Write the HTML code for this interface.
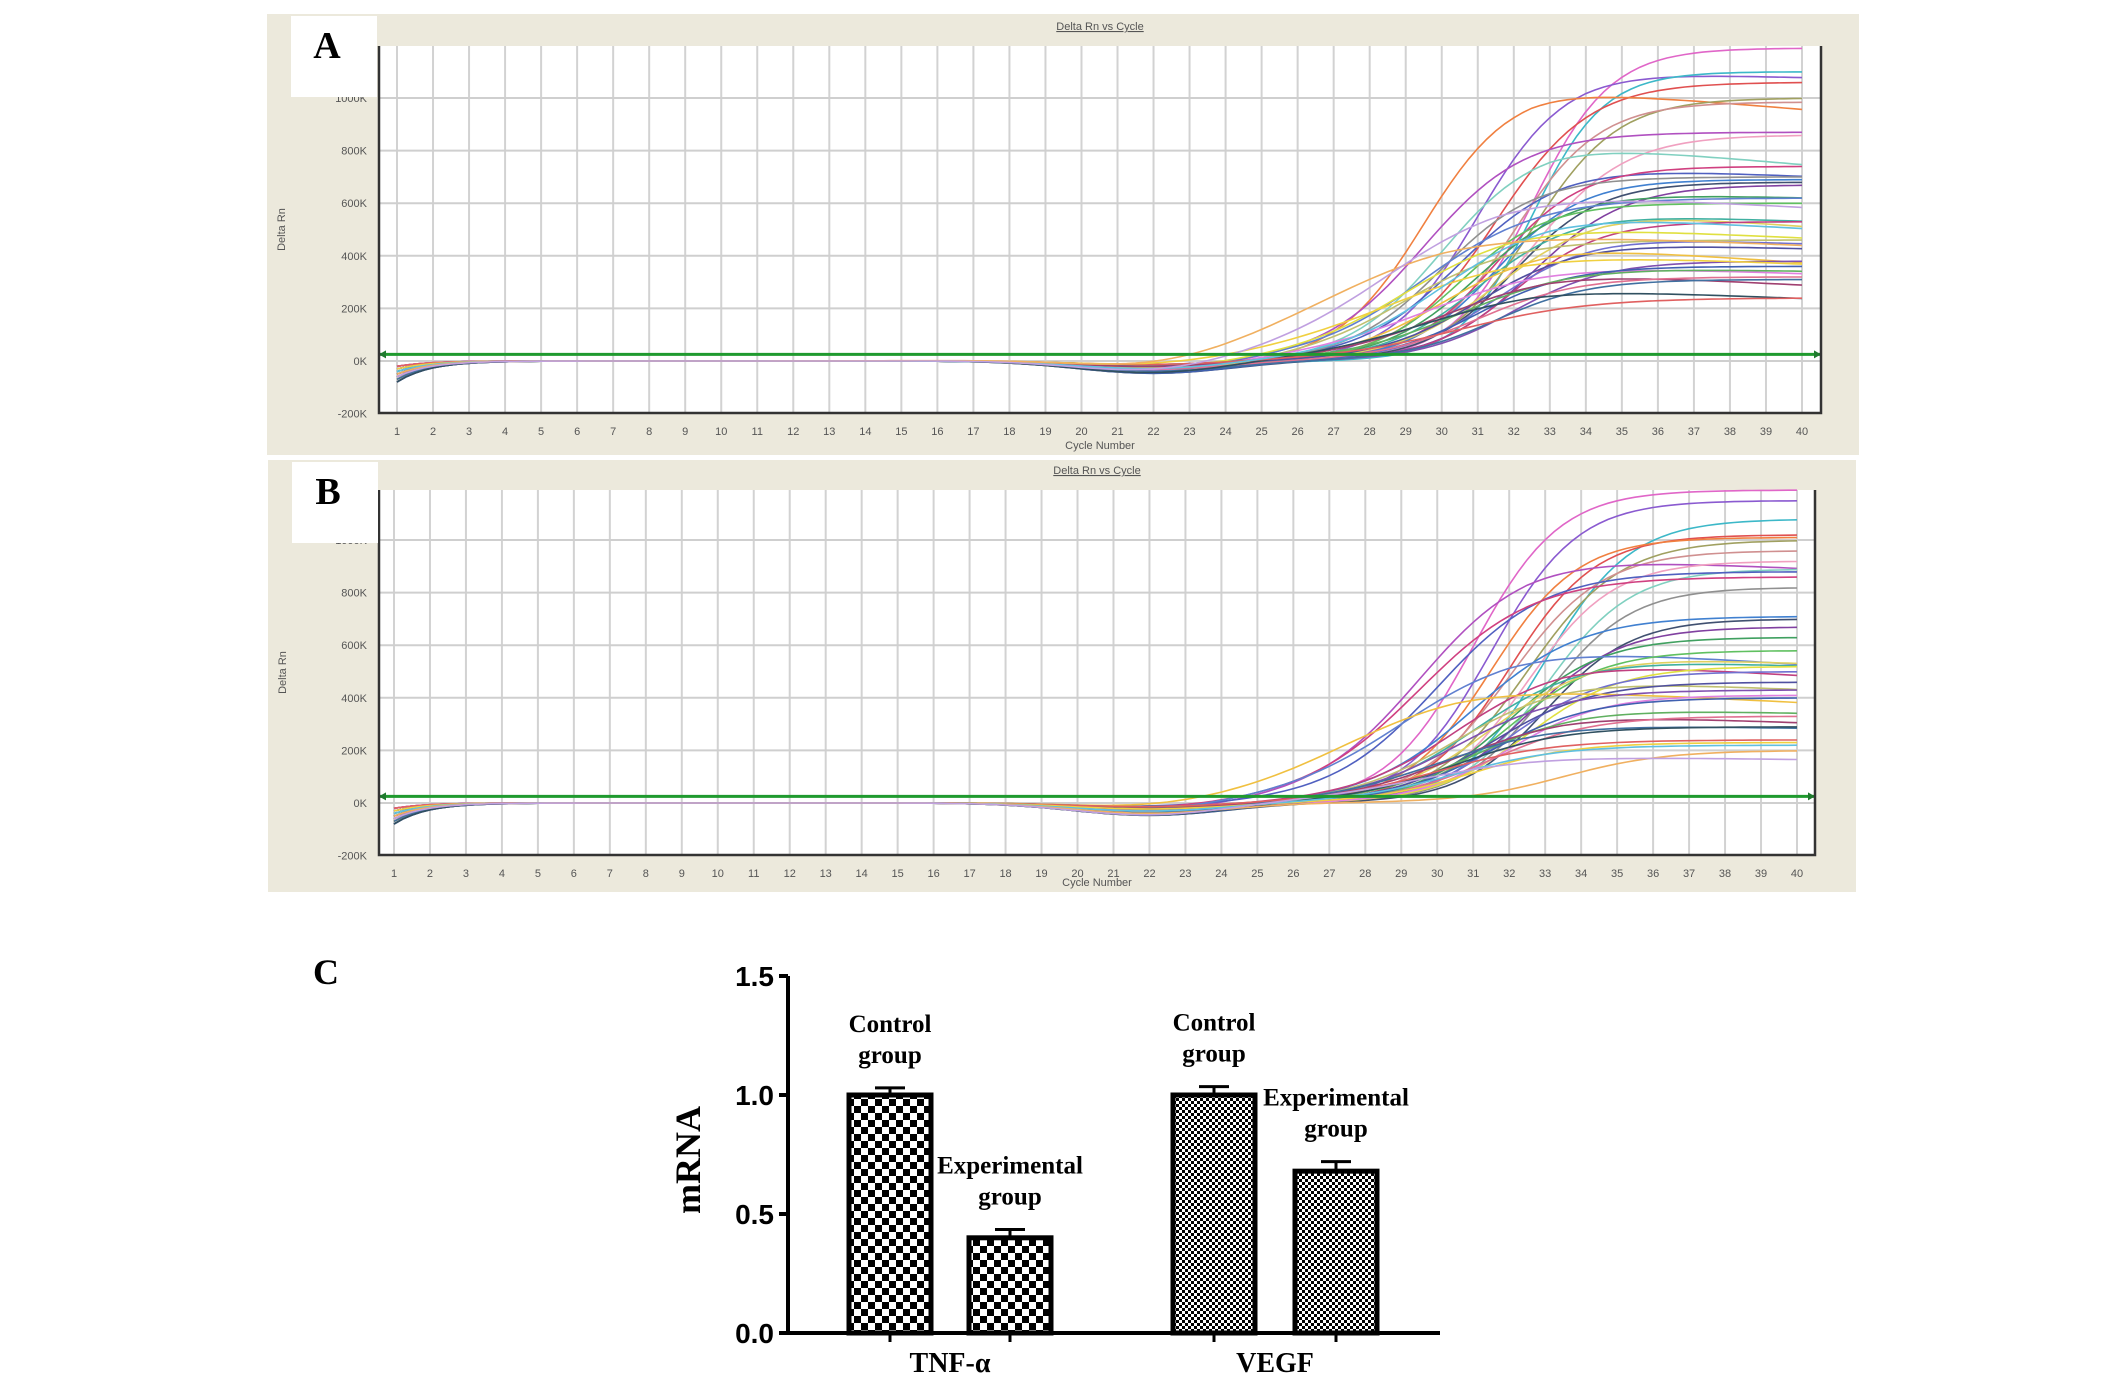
<!DOCTYPE html>
<html><head><meta charset="utf-8">
<style>
html,body{margin:0;padding:0;background:#fff;}
svg{display:block;}
.tk{font-family:"Liberation Sans",sans-serif;font-size:11px;fill:#555;}
</style></head>
<body>
<svg id="fig" width="2126" height="1394" viewBox="0 0 2126 1394" xmlns="http://www.w3.org/2000/svg">
<defs>
<pattern id="chk1" width="14" height="14" patternUnits="userSpaceOnUse"><rect width="14" height="14" fill="#fff"/><rect width="7" height="7" fill="#000"/><rect x="7" y="7" width="7" height="7" fill="#000"/></pattern>
<pattern id="chk2" width="6" height="6" patternUnits="userSpaceOnUse"><rect width="6" height="6" fill="#fff"/><rect width="3" height="3" fill="#000"/><rect x="3" y="3" width="3" height="3" fill="#000"/></pattern>
</defs>
<g id="panelA"></g>
<g id="panelB"></g>
<g id="panelC"></g>
</svg>
<script>
// ---- Panel A amplification data ----
const cycles = Array.from({length:40},(_,i)=>i+1);
const yTicks = [-200,0,200,400,600,800,1000];
const yTickLabels = ["-200K","0K","200K","400K","600K","800K","1000K"];
const plateauA = [1190,1100,1100,1060,1040,1000,985,870,860,830,740,740,700,690,680,670,640,620,600,570,560,530,520,470,460,450,440,380,370,360,360,340,320,310,280,240,420,560,500,650];
const ctA =      [32.5,31.0,32.5,31.5,29.5,32.5,32.0,29.5,32.5,30.0,30.5,31.5,30.0,31.5,32.0,32.5,31.0,29.5,30.5,31.5,31.0,32.0,29.0,31.5,29.0,31.0,30.0,32.0,29.5,31.0,30.5,30.0,31.0,31.5,29.5,30.5,28.5,30.0,27.0,28.5];
const slopeA =   [1.1,1.2,1.0,1.3,1.2,1.2,1.2,1.4,1.3,1.3,1.4,1.2,1.3,1.2,1.2,1.3,1.3,1.6,1.2,1.4,1.3,1.2,1.6,1.3,1.5,1.4,1.4,1.3,1.8,1.3,1.6,1.6,1.4,1.3,1.7,1.8,2.0,1.5,2.0,1.8];
const driftA =   [0,-0.02,0,0,-0.08,0,0,0,0,-0.1,-0.05,0,0,0,0,0,-0.03,0,0,-0.1,-0.05,0,-0.1,-0.05,0,-0.05,-0.15,0,-0.1,0,-0.05,-0.15,0,0,-0.15,0,-0.12,-0.1,-0.12,-0.1];
// ---- Panel B amplification data ----
const plateauB = [1190,1150,1080,1020,1010,1000,960,940,920,890,880,860,820,710,700,670,630,600,580,560,550,540,520,500,470,460,450,430,410,400,360,340,330,300,290,240,230,220,200,180];
const ctB =      [31.0,31.5,33.0,32.0,31.5,32.5,32.0,29.5,32.5,33.0,30.0,29.5,33.0,31.0,33.0,32.5,32.0,29.0,32.0,31.5,31.0,30.5,32.5,32.0,30.5,31.5,27.5,30.5,32.0,31.5,31.0,30.5,31.5,30.0,30.5,30.0,31.0,30.5,33.5,29.5];
const slopeB =   [1.2,1.2,1.2,1.2,1.2,1.3,1.3,1.5,1.2,1.2,1.5,1.6,1.2,1.5,1.2,1.3,1.3,1.7,1.3,1.4,1.5,1.5,1.3,1.3,1.5,1.4,1.8,1.5,1.3,1.4,1.5,1.6,1.4,1.6,1.5,1.6,1.4,1.5,1.4,1.7];
const driftB =   [0,0,0,0,0,0,0,-0.05,0,0,0,0,0,0,0,0,0,-0.12,0,-0.05,-0.05,-0.1,0,0,-0.08,0,-0.15,0,0,0,-0.05,-0.1,0,-0.05,0,0,0,0,0,-0.08];
const palette = ["#e066c8","#8a5ad0","#3cb8c8","#e05050","#f08040","#a0a060","#d09090","#b050c0","#f0a0c0","#80d0c0","#5060c0","#d04080","#909090","#4080d0","#405070","#8040a0","#40a060","#6080d0","#60c060","#e0d060","#40b0a0","#c04080","#e0e040","#7070d0","#c0c070","#5050a0","#f0c040","#8050b0","#e080e0","#4060b0","#60b060","#a04070","#e07090","#4070a0","#305060","#e06060","#f0d040","#60c0e0","#f0b060","#c0a0e0"];

const NS="http://www.w3.org/2000/svg";
function mk(parent,tag,attrs,text){const e=document.createElementNS(NS,tag);for(const k in attrs)e.setAttribute(k,attrs[k]);if(text!==undefined)e.textContent=text;parent.appendChild(e);return e;}

function drawAmp(g,cfg,P,C,S,D,letter,title){
  const {bx0,by0,bx1,by1,px0,py0,px1,py1,c1x,c40x,zeroY,k1000Y}=cfg;
  const xOf=c=>c1x+(c-1)*(c40x-c1x)/39;
  const perK=(zeroY-k1000Y)/1000;
  const yOf=v=>zeroY-v*perK;
  let e=mk(g,'rect',{x:bx0,y:by0,width:bx1-bx0,height:by1-by0,fill:'#ece9dc'});
  
  e=mk(g,'rect',{x:px0,y:py0,width:px1-px0,height:py1-py0,fill:'#fff'});
  
  const grid=mk(g,'g',{});
  cycles.forEach(c=>mk(grid,'line',{x1:xOf(c),x2:xOf(c),y1:py0,y2:py1,stroke:'#d2d2d2','stroke-width':2}));
  yTicks.forEach(v=>{if(yOf(v)>py0&&yOf(v)<py1)mk(grid,'line',{x1:px0,x2:px1,y1:yOf(v),y2:yOf(v),stroke:'#cfcfcf','stroke-width':2});});
  const lab=mk(g,'g',{});
  yTicks.forEach((v,i)=>mk(lab,'text',{x:px0-12,y:yOf(v)+4,'text-anchor':'end',class:'tk'},yTickLabels[i]));
  const xl=mk(g,'g',{});
  cycles.forEach(c=>mk(xl,'text',{x:xOf(c),y:py1+22,'text-anchor':'middle',class:'tk'},String(c)));
  e=mk(g,'text',{x:(px0+px1)/2,y:by1-6,'text-anchor':'middle',class:'tk'},'Cycle Number');
  
  e=mk(g,'text',{x:0,y:0,'text-anchor':'middle',class:'tk',transform:`translate(${bx0+18},${(py0+py1)/2}) rotate(-90)`},'Delta Rn');
  
  e=mk(g,'text',{x:(px0+px1)/2,y:py0-16,'text-anchor':'middle',class:'tk','text-decoration':'underline'},title);
  
  const curves=mk(g,'g',{fill:'none'});
  P.forEach((p,i)=>{
    let d='';
    for(let c=1;c<=40;c+=0.25){
      let v=p/(1+Math.exp(-(c-C[i])/S[i]));
      const past=Math.max(0,c-C[i]-3)/(40-C[i]-3+0.001);
      v*=1+D[i]*Math.min(1,past);
      v-=(15+(i%5)*8)*Math.exp(-Math.pow((c-22)/3,2));
      v-=(20+(i%7)*10)*Math.exp(-(c-1)/0.9);
      d+=(d?'L':'M')+xOf(c).toFixed(1)+','+yOf(v).toFixed(1);
    }
    const pth=mk(curves,'path',{d:d,stroke:palette[i%palette.length],'stroke-width':1.6});
    
    
  });
  const thrY=yOf(25);
  e=mk(g,'line',{x1:px0,x2:px1,y1:thrY,y2:thrY,stroke:'#1f9a2e','stroke-width':3});
  
  mk(g,'path',{d:`M${px1},${thrY} l-7,-4 v8 z M${px0},${thrY} l7,-4 v8 z`,fill:'#1f7a2e'});
  e=mk(g,'path',{d:`M${px0},${py0} V${py1} H${px1} V${py0}`,fill:'none',stroke:'#333','stroke-width':2.5});
  
  e=mk(g,'rect',{x:bx0+24,y:by0+2,width:86,height:81,fill:'#fff'});
  
  e=mk(g,'text',{x:bx0+60,y:by0+44,'text-anchor':'middle','font-family':'"Liberation Serif",serif','font-weight':'bold','font-size':38},letter);
  
}
drawAmp(document.getElementById('panelA'),{bx0:267,by0:14,bx1:1859,by1:455,px0:379,py0:46,px1:1821,py1:413,c1x:397,c40x:1802,zeroY:361,k1000Y:98},plateauA,ctA,slopeA,driftA,'A','Delta Rn vs Cycle');
drawAmp(document.getElementById('panelB'),{bx0:268,by0:460,bx1:1856,by1:892,px0:379,py0:490,px1:1815,py1:855,c1x:394,c40x:1797,zeroY:803,k1000Y:540},plateauB,ctB,slopeB,driftB,'B','Delta Rn vs Cycle');

// ---- Panel C bar chart data ----
const genes = ["TNF-α","VEGF"];
const controlVals = [1.0,1.0];
const controlErr = [0.03,0.035];
const expVals = [0.4,0.68];
const expErr = [0.035,0.04];
const barTicks = [0.0,0.5,1.0,1.5];
const barTickLabels = ["0.0","0.5","1.0","1.5"];
(function(){
  const g=document.getElementById('panelC');
  const x0=788,y0=1333,per=238;
  const yOf=v=>y0-v*per;
  const ctrlX=[849,1173],expX=[969,1295],bw=82;
  let e=mk(g,'text',{x:326,y:984,'text-anchor':'middle','font-family':'"Liberation Serif",serif','font-weight':'bold','font-size':36},'C');
  
  genes.forEach((gn,i)=>{
    [[ctrlX[i],controlVals[i],controlErr[i],'Control',i==0?'url(#chk1)':'url(#chk2)'],[expX[i],expVals[i],expErr[i],'Experimental',i==0?'url(#chk1)':'url(#chk2)']].forEach(([bx,v,er,lb,fill])=>{
      const cx=bx+bw/2;
      const eb=mk(g,'path',{d:`M${cx},${yOf(v)} V${yOf(v+er)} M${cx-15},${yOf(v+er)} H${cx+15}`,stroke:'#000','stroke-width':3,fill:'none'});
      
      const r=mk(g,'rect',{x:bx,y:yOf(v),width:bw,height:v*per,fill:fill,stroke:'#000','stroke-width':5});
      
      
      mk(g,'line',{x1:cx,x2:cx,y1:y0,y2:y0+9,stroke:'#000','stroke-width':3});
      const ty=(lb==='Control')?yOf(v+er)-56:yOf(v+er)-56;
      const t1=mk(g,'text',{x:cx,y:ty,'text-anchor':'middle','font-family':'"Liberation Serif",serif','font-weight':'bold','font-size':25},lb);
      
      const t2=mk(g,'text',{x:cx,y:ty+31,'text-anchor':'middle','font-family':'"Liberation Serif",serif','font-weight':'bold','font-size':25},'group');
      
    });
    const gl=mk(g,'text',{x:(ctrlX[i]+expX[i]+bw)/2,y:1372,'text-anchor':'middle','font-family':'"Liberation Serif",serif','font-weight':'bold','font-size':28},gn);
    
  });
  e=mk(g,'path',{d:`M${x0},${yOf(1.5)} V${y0} H1440`,stroke:'#000','stroke-width':4,fill:'none'});
  
  barTicks.forEach((v,i)=>{
    mk(g,'line',{x1:x0-9,x2:x0,y1:yOf(v),y2:yOf(v),stroke:'#000','stroke-width':4});
    const t=mk(g,'text',{x:x0-14,y:yOf(v)+10,'text-anchor':'end','font-family':'"Liberation Sans",sans-serif','font-weight':'bold','font-size':28},barTickLabels[i]);
    
  });
  e=mk(g,'text',{x:0,y:0,'text-anchor':'middle','font-family':'"Liberation Serif",serif','font-weight':'bold','font-size':36,transform:'translate(700,1160) rotate(-90)'},'mRNA');
  
})();
</script>
</body></html>
